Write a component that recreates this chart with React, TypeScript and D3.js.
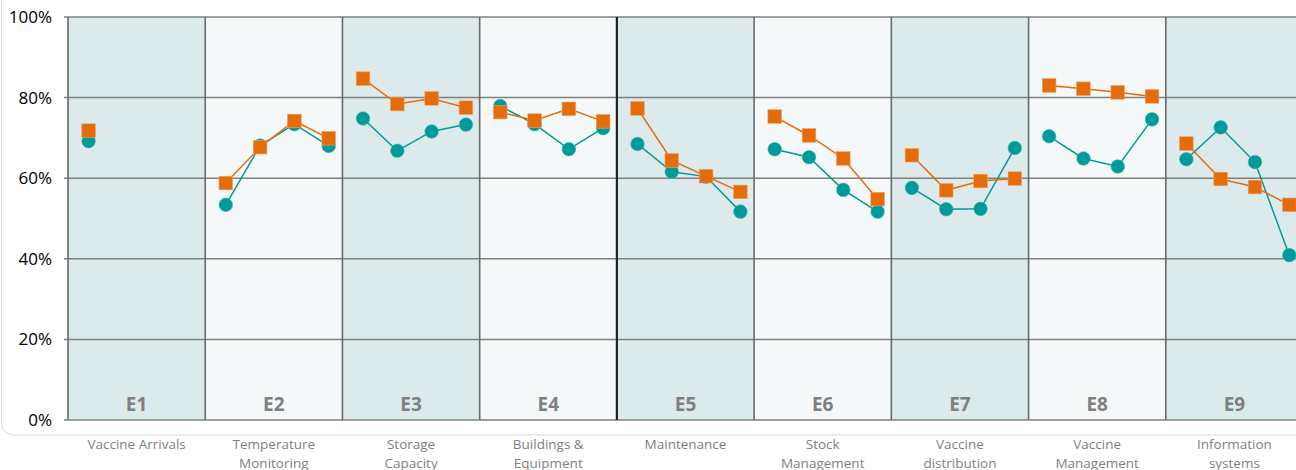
import React from "react";
import * as d3 from "d3";

const codes = ["E1", "E2", "E3", "E4", "E5", "E6", "E7", "E8", "E9"];
const labels = [
  ["Vaccine Arrivals"],
  ["Temperature", "Monitoring"],
  ["Storage", "Capacity"],
  ["Buildings &", "Equipment"],
  ["Maintenance"],
  ["Stock", "Management"],
  ["Vaccine", "distribution"],
  ["Vaccine", "Management"],
  ["Information", "systems"],
];

// 4 slots per criterion, E1 only uses the first
const tealValues: (number | null)[] = [
  69.2, null, null, null,
  53.4, 68.1, 73.4, 68.0,
  74.8, 66.8, 71.6, 73.3,
  77.9, 73.4, 67.2, 72.4,
  68.5, 61.6, 60.4, 51.7,
  67.2, 65.2, 57.1, 51.7,
  57.6, 52.3, 52.4, 67.5,
  70.4, 64.9, 62.9, 74.6,
  64.7, 72.6, 64.0, 40.9,
];
const orangeValues: (number | null)[] = [
  71.8, null, null, null,
  58.8, 67.7, 74.2, 69.9,
  84.7, 78.4, 79.8, 77.5,
  76.4, 74.3, 77.2, 74.1,
  77.3, 64.4, 60.5, 56.6,
  75.3, 70.6, 64.9, 54.8,
  65.7, 57.0, 59.3, 59.9,
  83.0, 82.2, 81.3, 80.3,
  68.6, 59.8, 57.8, 53.4,
];
const yTicks = [0, 20, 40, 60, 80, 100];

const W = 1296;
const H = 470;
const left = 68;
const right = 1303;
const top = 17;
const bottom = 420;
const TEAL = "#009a99";
const ORANGE = "#e46c0a";
const font = "'Open Sans', 'Liberation Sans', sans-serif";

export default function App() {
  const x = d3.scaleLinear().domain([0, codes.length * 4]).range([left, right]);
  const y = d3.scaleLinear().domain([0, 100]).range([bottom, top]);
  const px = (i: number) => x(i + 0.6);

  const pts = (vals: (number | null)[]) =>
    vals.map((v, i) => ({ i, v })).filter((d) => d.v !== null) as { i: number; v: number }[];

  const segments = (vals: (number | null)[]) =>
    codes.map((_, p) => pts(vals.slice(p * 4, p * 4 + 4)).map((d) => ({ i: d.i + p * 4, v: d.v })));

  const line = d3
    .line<{ i: number; v: number }>()
    .x((d) => px(d.i))
    .y((d) => y(d.v));

  return (
    <div style={{ position: "fixed", left: 0, top: 0 }}>
      <svg width={W} height={H} style={{ display: "block", background: "#fff" }}>
        <rect x={1.5} y={-20} width={W + 20} height={455} rx={12} fill="none" stroke="#d9d9d9" />
        {codes.map((c, p) => (
          <rect
            key={c}
            x={x(p * 4)}
            y={top}
            width={x(p * 4 + 4) - x(p * 4)}
            height={bottom - top}
            fill={p % 2 === 0 ? "#ddeaeb" : "#f4f8f9"}
          />
        ))}
        {yTicks.map((t) => (
          <g key={t}>
            <line x1={left - 4} x2={right} y1={y(t)} y2={y(t)} stroke="#808080" strokeWidth={1.5} />
            <text
              x={52}
              y={y(t)}
              dy="0.35em"
              textAnchor="end"
              fontFamily={font}
              fontSize={17}
              fill="#000"
            >
              {t}%
            </text>
          </g>
        ))}
        {codes.map((c, p) => (
          <line
            key={c}
            x1={x(p * 4)}
            x2={x(p * 4)}
            y1={top}
            y2={bottom}
            stroke={p === 4 ? "#222" : "#6a6a6a"}
            strokeWidth={p === 4 ? 2.2 : 1.6}
          />
        ))}
        {codes.map((c, p) => {
          const cx = (x(p * 4) + x(p * 4 + 4)) / 2;
          return (
            <g key={c}>
              <text
                x={cx}
                y={411}
                textAnchor="middle"
                fontFamily={font}
                fontWeight="bold"
                fontSize={19}
                fill="#7f7f7f"
              >
                {c}
              </text>
              {labels[p].map((l, k) => (
                <text
                  key={k}
                  x={cx}
                  y={449 + k * 19}
                  textAnchor="middle"
                  fontFamily={font}
                  fontSize={13.5}
                  fill="#7f7f7f"
                >
                  {l}
                </text>
              ))}
            </g>
          );
        })}
        {segments(tealValues).map((s, k) => (
          <path key={"t" + k} d={line(s) || ""} fill="none" stroke={TEAL} strokeWidth={1.5} />
        ))}
        {pts(tealValues).map((d) => (
          <circle key={"tc" + d.i} cx={px(d.i)} cy={y(d.v)} r={6.8} fill={TEAL} stroke="#3fb3b2" strokeWidth={0.6} />
        ))}
        {segments(orangeValues).map((s, k) => (
          <path key={"o" + k} d={line(s) || ""} fill="none" stroke={ORANGE} strokeWidth={1.5} />
        ))}
        {pts(orangeValues).map((d) => (
          <rect
            key={"os" + d.i}
            x={px(d.i) - 6.8}
            y={y(d.v) - 6.8}
            width={13.6}
            height={13.6}
            fill={ORANGE}
            stroke="#f1a060"
            strokeWidth={0.6}
          />
        ))}
      </svg>
    </div>
  );
}
